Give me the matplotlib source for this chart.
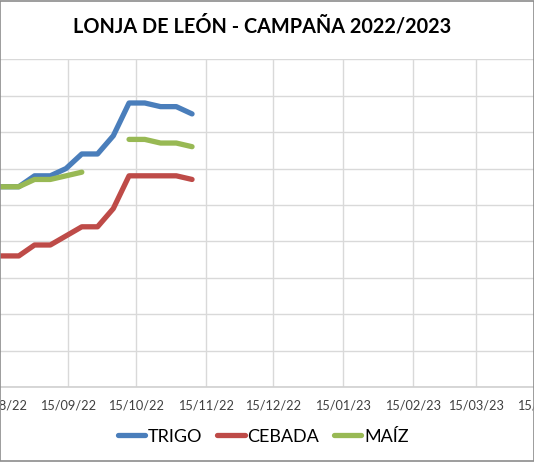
import numpy as np
import matplotlib.pyplot as plt
import matplotlib.dates as mdates
from matplotlib.patches import Rectangle
from datetime import datetime as dt, timedelta

plt.rcParams['font.family'] = ['Lato', 'DejaVu Sans']

# weekly quotes (EUR/t)
fechas = ["2022-08-10", "2022-08-17", "2022-08-24", "2022-08-31", "2022-09-07",
          "2022-09-14", "2022-09-21", "2022-09-28", "2022-10-05", "2022-10-12",
          "2022-10-19", "2022-10-26", "2022-11-02", "2022-11-09"]
trigo = [305, 305, 305, 308, 308, 310, 314, 314, 319, 328, 328, 327, 327, 325]
cebada = [286, 286, 286, 289, 289, 291.5, 294, 294, 299, 308, 308, 308, 308, 307]
maiz = [305, 305, 305, 307, 307, 308, 309, np.nan, np.nan, 318, 318, 317, 317, 316]

ticks = ["2022-08-15", "2022-09-15", "2022-10-15", "2022-11-15", "2022-12-15",
         "2023-01-15", "2023-02-15", "2023-03-15", "2023-04-15", "2023-05-15"]

x = [dt.strptime(f, "%Y-%m-%d") for f in fechas]
xt = [dt.strptime(f, "%Y-%m-%d") for f in ticks]

W, H = 534, 462
fig = plt.figure(figsize=(W/100, H/100), dpi=100)

# plot area is wider than the picture (it is cropped on both sides)
ext = 80
ax = fig.add_axes([-ext/W, 75/H, (W+2*ext)/W, (387-59.3)/H])
ref = dt(2022, 9, 15)
ppd = 2.25
ax.set_xlim(ref - timedelta(days=(68.3+ext)/ppd), ref + timedelta(days=(W+ext-68.3)/ppd))
ax.set_ylim(250, 340)
ax.set_yticks(np.arange(250, 341, 10))
ax.set_yticklabels([])
ax.set_xticks(xt)
ax.xaxis.set_major_formatter(mdates.DateFormatter("%d/%m/%y"))
ax.tick_params(axis='both', length=0, labelsize=9.2, colors='#404040', pad=9)
ax.grid(True, color='#d9d9d9', linewidth=1)
ax.set_axisbelow(True)
for s in ['top', 'left', 'right']:
    ax.spines[s].set_visible(False)
ax.spines['bottom'].set_color('#d0d0d0')
ax.spines['bottom'].set_linewidth(1.2)

ax.plot(x, trigo, color='#4a7ebb', lw=3.8, label='TRIGO', solid_capstyle='round')
ax.plot(x, cebada, color='#be4b48', lw=3.8, label='CEBADA', solid_capstyle='round')
ax.plot(x, maiz, color='#98b954', lw=3.8, label='MAÍZ', solid_capstyle='round')

fig.text(0.49, 1-26/H, "LONJA DE LEÓN - CAMPAÑA 2022/2023", ha='center', va='center',
         fontsize=14.3, fontweight='bold', color='black')

fig.legend(loc='center', bbox_to_anchor=(0.493, 1-436.7/H), ncol=3, frameon=False,
           fontsize=13, handlelength=1.5, handletextpad=0.15, columnspacing=0.85)

fig.patches.append(Rectangle((0, 0.002), 1, 0.996, transform=fig.transFigure,
                             fill=False, edgecolor='#8c8c8c', lw=1.2))

fig.savefig("out.png", dpi=100)
